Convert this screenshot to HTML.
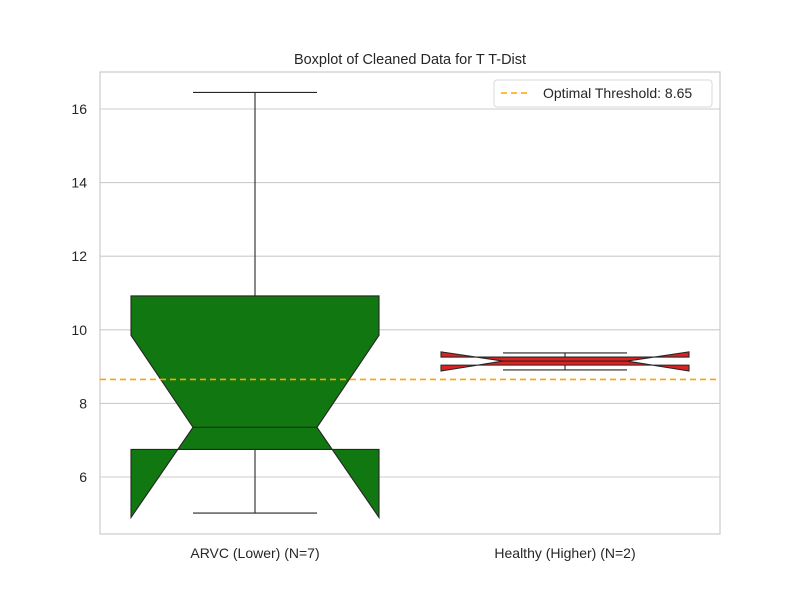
<!DOCTYPE html>
<html><head><meta charset="utf-8"><style>
body{margin:0;background:#fff;font-family:"Liberation Sans","DejaVu Sans",sans-serif}
svg text{font-family:"Liberation Sans","DejaVu Sans",sans-serif;fill:#262626}
</style></head><body>
<svg id="chart" width="800" height="600">
<text x="410" y="64" font-size="14.5" text-anchor="middle">Boxplot of Cleaned Data for T T-Dist</text>
<g id="grid"></g>
<g id="boxes"></g>
<rect x="100" y="72" width="620" height="462" fill="none" stroke="#cccccc" stroke-width="1.2"/>
<g id="ticks"></g>
<line id="thr" x1="100" x2="720" stroke="orange" stroke-width="1.6" stroke-dasharray="6,4"/>
<g>
<rect x="494" y="80" width="218" height="27" rx="3" fill="#fff" stroke="#d8d8d8"/>
<line x1="501" x2="529" y1="93" y2="93" stroke="orange" stroke-width="1.6" stroke-dasharray="6,4"/>
<text x="543" y="98" font-size="14">Optimal Threshold: 8.65</text>
</g>
</svg>
<script>
const categories=["ARVC (Lower) (N=7)","Healthy (Higher) (N=2)"];
const whiskerLow=[5.02,8.91];
const q1=[6.75,9.04];
const median=[7.35,9.15];
const q3=[10.92,9.26];
const whiskerHigh=[16.45,9.37];
const notchLow=[4.9,8.88];
const notchHigh=[9.85,9.40];
const colors=["#117711","#dd2222"];
const yTicks=[6,8,10,12,14,16];
const threshold=8.65;
const y=v=>477-(v-6)*36.8;
const xc=i=>255+i*310;
const NS="http://www.w3.org/2000/svg";
function mk(tag,attrs,parent){const e=document.createElementNS(NS,tag);for(const k in attrs)e.setAttribute(k,attrs[k]);parent.appendChild(e);return e;}
const grid=document.getElementById('grid'),ticks=document.getElementById('ticks'),boxes=document.getElementById('boxes');
yTicks.forEach(t=>{
 const l=mk('line',{x1:100,x2:720,y1:y(t),y2:y(t),stroke:'#cccccc','stroke-width':1.1},grid);
 
 
 const tx=mk('text',{x:87,y:y(t)+5,'font-size':14,'text-anchor':'end'},ticks);
 tx.textContent=t;
 
 
});
const thr=document.getElementById('thr');thr.setAttribute('y1',y(threshold));thr.setAttribute('y2',y(threshold));
categories.forEach((c,i)=>{
 const cx=xc(i),hw=124,nw=62,cw=62;
 const g=mk('g',{},boxes);
 
 
 const pts=[[cx-hw,y(q3[i])],[cx+hw,y(q3[i])],[cx+hw,y(notchHigh[i])],[cx+nw,y(median[i])],[cx+hw,y(notchLow[i])],[cx+hw,y(q1[i])],[cx-hw,y(q1[i])],[cx-hw,y(notchLow[i])],[cx-nw,y(median[i])],[cx-hw,y(notchHigh[i])]];
 mk('polygon',{points:pts.map(p=>p.join(',')).join(' '),fill:colors[i],stroke:'#262626','stroke-width':1.1},g);
 mk('line',{x1:cx-nw,x2:cx+nw,y1:y(median[i]),y2:y(median[i]),stroke:'#262626','stroke-width':1.1},g);
 const top=Math.min(y(q3[i]),y(notchHigh[i])),bot=Math.max(y(q1[i]),y(notchLow[i]));
 if(y(whiskerHigh[i])<top) mk('line',{x1:cx,x2:cx,y1:y(whiskerHigh[i]),y2:top,stroke:'#262626','stroke-width':1.1},g);
 else mk('line',{x1:cx,x2:cx,y1:y(whiskerHigh[i]),y2:y(q3[i]),stroke:'#262626','stroke-width':1.1},g);
 if(y(whiskerLow[i])>bot) mk('line',{x1:cx,x2:cx,y1:y(whiskerLow[i]),y2:bot,stroke:'#262626','stroke-width':1.1},g);
 else mk('line',{x1:cx,x2:cx,y1:y(whiskerLow[i]),y2:y(q1[i]),stroke:'#262626','stroke-width':1.1},g);
 mk('line',{x1:cx-cw,x2:cx+cw,y1:y(whiskerHigh[i]),y2:y(whiskerHigh[i]),stroke:'#262626','stroke-width':1.1},g);
 mk('line',{x1:cx-cw,x2:cx+cw,y1:y(whiskerLow[i]),y2:y(whiskerLow[i]),stroke:'#262626','stroke-width':1.1},g);
 const t=mk('text',{x:cx,y:558,'font-size':14,'text-anchor':'middle'},ticks);
 t.textContent=c;
 
 
});
</script>
</body></html>
